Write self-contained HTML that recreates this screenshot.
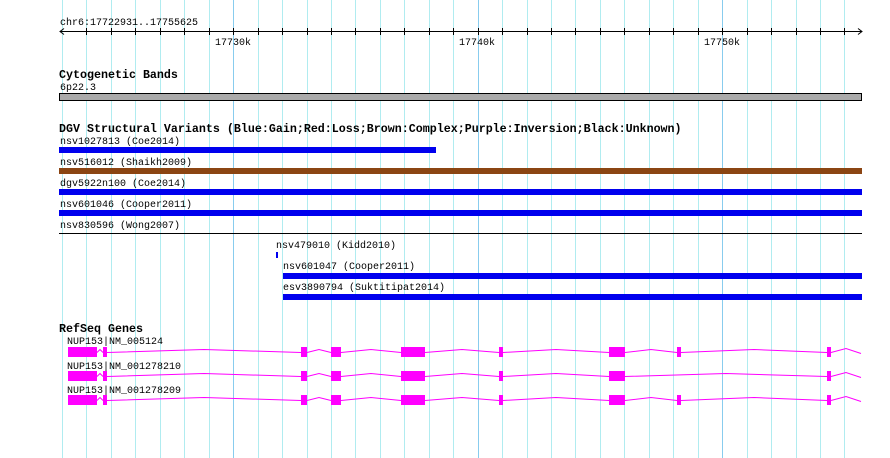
<!DOCTYPE html>
<html><head><meta charset="utf-8"><style>
html,body{margin:0;padding:0;background:#fff}
svg{display:block}
text{font-family:"Liberation Mono","DejaVu Sans Mono",monospace;font-size:10px;fill:#000}
.b{font-weight:bold;font-size:11.67px}
</style></head><body>
<svg width="890" height="458" viewBox="0 0 890 458" xmlns="http://www.w3.org/2000/svg">
<g id="grid" stroke-width="1"></g>
<line x1="60" y1="31.5" x2="862" y2="31.5" stroke="#000"/>
<path d="M64,28.5 L60,31.5 L64,34.5 M858,28.5 L862,31.5 L858,34.5" stroke="#000" fill="none"/>
<g id="ticks" stroke="#000"></g>
<text x="60" y="25">chr6:17722931..17755625</text>
<text x="215" y="45">17730k</text>
<text x="459" y="45">17740k</text>
<text x="704" y="45">17750k</text>
<text class="b" x="59" y="78">Cytogenetic Bands</text>
<text x="60" y="90">6p22.3</text>
<rect x="59.5" y="93.5" width="802" height="7" fill="#aaa" stroke="#000"/>
<text class="b" x="59" y="132">DGV Structural Variants (Blue:Gain;Red:Loss;Brown:Complex;Purple:Inversion;Black:Unknown)</text>
<text x="60" y="144">nsv1027813 (Coe2014)</text>
<rect x="59" y="147" width="377" height="6" fill="#0000ee"/>
<text x="60" y="165">nsv516012 (Shaikh2009)</text>
<rect x="59" y="168" width="803" height="6" fill="#8b4513"/>
<text x="60" y="186">dgv5922n100 (Coe2014)</text>
<rect x="59" y="189" width="803" height="6" fill="#0000ee"/>
<text x="60" y="207">nsv601046 (Cooper2011)</text>
<rect x="59" y="210" width="803" height="6" fill="#0000ee"/>
<text x="60" y="228">nsv830596 (Wong2007)</text>
<line x1="59" y1="233.5" x2="862" y2="233.5" stroke="#000"/>
<text x="276" y="248">nsv479010 (Kidd2010)</text>
<rect x="276" y="252" width="2" height="6" fill="#0000ee"/>
<text x="283" y="269">nsv601047 (Cooper2011)</text>
<rect x="283" y="273" width="579" height="6" fill="#0000ee"/>
<text x="283" y="290">esv3890794 (Suktitipat2014)</text>
<rect x="283" y="294" width="579" height="6" fill="#0000ee"/>
<text class="b" x="59" y="332">RefSeq Genes</text>
<text x="67" y="344">NUP153|NM_005124</text>
<text x="67" y="369">NUP153|NM_001278210</text>
<text x="67" y="393">NUP153|NM_001278209</text>
<g id="genes" fill="#ff00ff" stroke="#ff00ff"></g>
</svg>
<script>
var ns="http://www.w3.org/2000/svg";
var g=document.getElementById("grid");
for(var i=0;i<33;i++){var x=Math.round(62+i*24.45)+0.5;var l=document.createElementNS(ns,"line");
l.setAttribute("x1",x);l.setAttribute("x2",x);l.setAttribute("y1",0);l.setAttribute("y2",458);
l.setAttribute("stroke",(i==7||i==17||i==27)?"#88ccee":"#b0ecf0");g.appendChild(l);
if(i>0){var t=document.createElementNS(ns,"line");t.setAttribute("x1",x);t.setAttribute("x2",x);t.setAttribute("y1",28);t.setAttribute("y2",35);t.setAttribute("stroke","#000");document.getElementById("ticks").appendChild(t);}}
var G=document.getElementById("genes");
var ex=[[68,97],[103,107],[301,307],[331,341],[401,425],[499,503],[609,625],[677,681],[827,831]];
[352,376,400].forEach(function(y,r){
 var e=ex.filter(function(a){return !(r==1&&a[0]==677)});
 var d="";
 for(var k=0;k<e.length-1;k++){var a=e[k][1],b=e[k+1][0],m=(a+b)/2;d+="M"+a+","+(y+0.5)+" L"+m+","+(y-2.5)+" L"+b+","+(y+0.5)+" ";}
 d+="M831,"+(y+0.5)+" L846,"+(y-3.5)+" L861,"+(y+1.5);
 var p=document.createElementNS(ns,"path");p.setAttribute("d",d);p.setAttribute("fill","none");G.appendChild(p);
 e.forEach(function(a){var rc=document.createElementNS(ns,"rect");rc.setAttribute("x",a[0]);rc.setAttribute("y",y-5);rc.setAttribute("width",a[1]-a[0]);rc.setAttribute("height",10);rc.setAttribute("stroke","none");G.appendChild(rc);});
});
</script>
</body></html>
